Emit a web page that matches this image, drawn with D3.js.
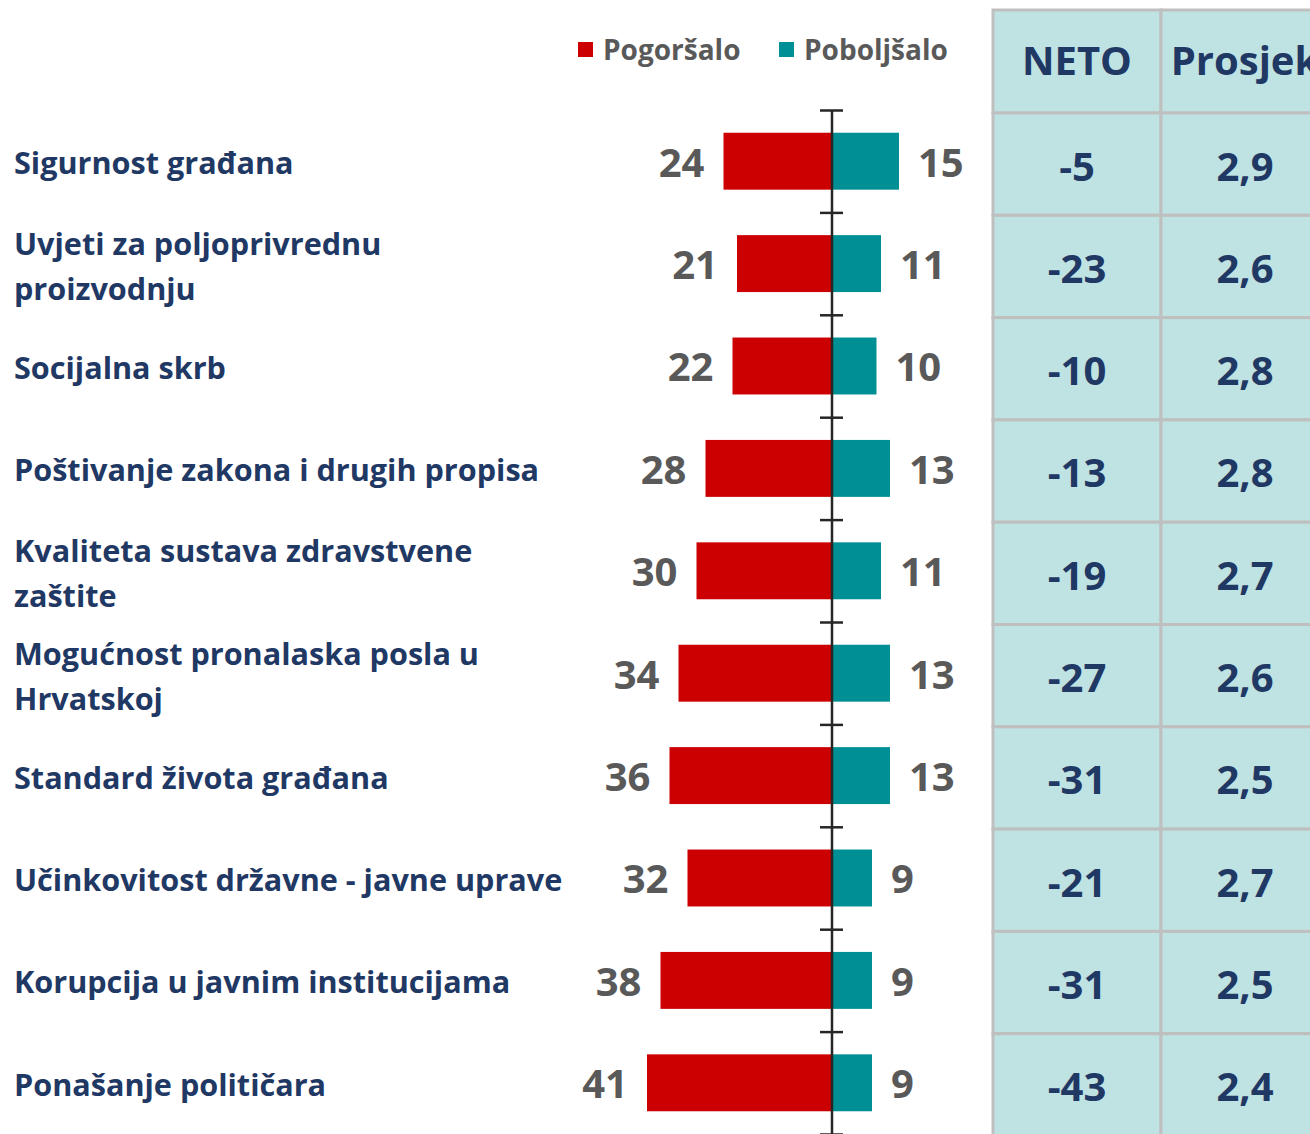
<!DOCTYPE html>
<html>
<head>
<meta charset="utf-8">
<script src="https://cdn.jsdelivr.net/npm/d3@7"></script>
<style>
  html, body { margin: 0; padding: 0; background: #ffffff; overflow: hidden; }
  svg { display: block; }
  text { font-family: "Open Sans", "Noto Sans", sans-serif; font-weight: 700; }
</style>
</head>
<body>
<svg id="chart" width="1310" height="1134"></svg>
<script>
// ---------- DATA ----------
const categories = [
  "Sigurnost građana",
  "Uvjeti za poljoprivrednu\nproizvodnju",
  "Socijalna skrb",
  "Poštivanje zakona i drugih propisa",
  "Kvaliteta sustava zdravstvene\nzaštite",
  "Mogućnost pronalaska posla u\nHrvatskoj",
  "Standard života građana",
  "Učinkovitost državne - javne uprave",
  "Korupcija u javnim institucijama",
  "Ponašanje političara"
];
const pogorsalo = [24, 21, 22, 28, 30, 34, 36, 32, 38, 41];
const poboljsalo = [15, 11, 10, 13, 11, 13, 13, 9, 9, 9];
const neto = ["-5", "-23", "-10", "-13", "-19", "-27", "-31", "-21", "-31", "-43"];
const prosjek = ["2,9", "2,6", "2,8", "2,8", "2,7", "2,6", "2,5", "2,7", "2,5", "2,4"];
const seriesNames = ["Pogoršalo", "Poboljšalo"];
const tableHeaders = ["NETO", "Prosjek"];

// ---------- STYLE ----------
const RED = "#cc0000", TEAL = "#008f94", NAVY = "#1f3864", GREY = "#595959";
const CELL = "#bfe2e2", CELL_BORDER = "#bfbfbf";

const svg = d3.select("#chart");

// scales
const x = d3.scaleLinear().domain([-45, 45]).range([831.5 - 202.5, 831.5 + 202.5]);
const y = d3.scaleBand().domain(d3.range(categories.length)).range([110, 1134]).padding(0);
const barH = y.bandwidth() * 0.556;

// bars
const g = svg.append("g");
g.selectAll("rect.neg").data(pogorsalo).join("rect")
  .attr("class", "neg")
  .attr("x", d => x(-d)).attr("width", d => x(0) - x(-d))
  .attr("y", (d, i) => y(i) + (y.bandwidth() - barH) / 2).attr("height", barH)
  .attr("fill", RED);
g.selectAll("rect.pos").data(poboljsalo).join("rect")
  .attr("class", "pos")
  .attr("x", x(0)).attr("width", d => x(d) - x(0))
  .attr("y", (d, i) => y(i) + (y.bandwidth() - barH) / 2).attr("height", barH)
  .attr("fill", TEAL);

// value labels
g.selectAll("text.negl").data(pogorsalo).join("text")
  .attr("class", "negl")
  .attr("x", d => x(-d) - 19)
  .attr("y", (d, i) => y(i) + y.bandwidth() / 2 + 1)
  .attr("dy", "0.36em")
  .attr("text-anchor", "end")
  .attr("font-size", 40).attr("fill", GREY)
  .text(d => d);
g.selectAll("text.posl").data(poboljsalo).join("text")
  .attr("class", "posl")
  .attr("x", d => x(d) + 19)
  .attr("y", (d, i) => y(i) + y.bandwidth() / 2 + 1)
  .attr("dy", "0.36em")
  .attr("text-anchor", "start")
  .attr("font-size", 40).attr("fill", GREY)
  .text(d => d);

// axis with ticks at band boundaries
const axisScale = d3.scaleLinear().domain([0, categories.length]).range([110, 1134]);
const axis = d3.axisRight(axisScale).tickValues(d3.range(0, categories.length + 1))
  .tickSize(0).tickFormat("");
const ax = svg.append("g").attr("transform", `translate(${x(0)},0)`).call(axis);
ax.select(".domain").attr("stroke", "#262626").attr("stroke-width", 2.5);
ax.selectAll(".tick line").attr("x1", -11.5).attr("x2", 11.5)
  .attr("stroke", "#262626").attr("stroke-width", 2.5);

// category labels
const cat = svg.append("g");
categories.forEach((c, i) => {
  const lines = c.split("\n");
  const cy = y(i) + y.bandwidth() / 2 + (lines.length > 1 ? 3 : 2);
  const t = cat.append("text").attr("x", 14).attr("font-size", 30.6).attr("fill", NAVY);
  lines.forEach((ln, j) => {
    t.append("tspan").attr("x", 14)
      .attr("y", cy + (j - (lines.length - 1) / 2) * 45)
      .attr("dy", "0.36em").text(ln);
  });
});

// legend
const legend = svg.append("g");
const legendX = [578, 779];
seriesNames.forEach((s, i) => {
  legend.append("rect").attr("x", legendX[i]).attr("y", 42).attr("width", 15).attr("height", 15)
    .attr("fill", i === 0 ? RED : TEAL);
  legend.append("text").attr("x", legendX[i] + 25).attr("y", 50).attr("dy", "0.36em")
    .attr("font-size", 28).attr("fill", GREY).text(s);
});

// table
const colX = d3.scaleBand().domain(d3.range(tableHeaders.length)).range([993, 1329]);
const rowY = d3.scaleBand().domain(d3.range(categories.length)).range([113, 1136]);
const tbl = svg.append("g");
// header
tableHeaders.forEach((h, j) => {
  tbl.append("rect").attr("x", colX(j)).attr("y", 10).attr("width", colX.bandwidth()).attr("height", 103)
    .attr("fill", CELL).attr("stroke", CELL_BORDER).attr("stroke-width", 3);
  tbl.append("text").attr("x", colX(j) + colX.bandwidth() / 2).attr("y", 60.5).attr("dy", "0.36em")
    .attr("text-anchor", "middle").attr("font-size", 40).attr("fill", NAVY).text(h);
});
[neto, prosjek].forEach((col, j) => {
  tbl.selectAll(null).data(col).join("rect")
    .attr("x", colX(j)).attr("y", (d, i) => rowY(i))
    .attr("width", colX.bandwidth()).attr("height", rowY.bandwidth())
    .attr("fill", CELL).attr("stroke", CELL_BORDER).attr("stroke-width", 3);
  tbl.selectAll(null).data(col).join("text")
    .attr("x", colX(j) + colX.bandwidth() / 2)
    .attr("y", (d, i) => rowY(i) + rowY.bandwidth() / 2 + 2)
    .attr("dy", "0.36em").attr("text-anchor", "middle")
    .attr("font-size", 40).attr("fill", NAVY).text(d => d);
});
</script>
</body>
</html>
